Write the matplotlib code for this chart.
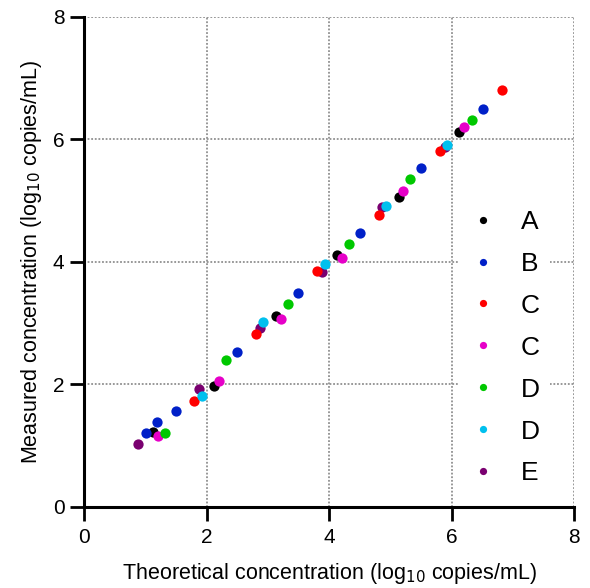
import numpy as np
import matplotlib
matplotlib.use("Agg")
import matplotlib.pyplot as plt

plt.rcParams['font.family'] = ['Liberation Sans', 'DejaVu Sans']

# theoretical vs measured concentration (log10 copies/mL), one list per sample
a_x = [1.13, 2.13, 3.13, 4.13, 5.14, 6.13]
a_y = [1.22, 1.97, 3.12, 4.11, 5.06, 6.13]

b_x = [1.01, 1.19, 1.50, 2.50, 3.50, 4.50, 5.50, 6.51]
b_y = [1.21, 1.38, 1.56, 2.53, 3.50, 4.48, 5.54, 6.50]

c1_x = [1.80, 2.80, 3.80, 4.81, 5.81, 6.82]
c1_y = [1.73, 2.82, 3.85, 4.77, 5.82, 6.81]

c2_x = [1.20, 2.21, 3.21, 4.21, 5.21, 6.21]
c2_y = [1.16, 2.06, 3.07, 4.07, 5.16, 6.21]

d1_x = [1.33, 2.32, 3.33, 4.33, 5.33, 6.33]
d1_y = [1.21, 2.40, 3.31, 4.29, 5.36, 6.32]

d2_x = [1.93, 2.92, 3.93, 4.93, 5.93]
d2_y = [1.82, 3.02, 3.96, 4.91, 5.91]

e_x = [0.88, 1.88, 2.88, 3.89, 4.87, 5.90]
e_y = [1.03, 1.93, 2.92, 3.84, 4.89, 5.88]

labels = ['A', 'B', 'C', 'C', 'D', 'D', 'E']
colors = ['#000000', '#0020c8', '#ff0000', '#e600c8', '#00c800', '#00c0ee', '#7a0070']
series = [(a_x, a_y), (b_x, b_y), (c1_x, c1_y), (c2_x, c2_y),
          (d1_x, d1_y), (d2_x, d2_y), (e_x, e_y)]
zorders = [4, 4, 4, 4, 4, 5, 3]

fig = plt.figure(figsize=(5.9, 5.88), dpi=100)
ax = fig.add_axes([0.1424, 0.1378, 0.8305, 0.8333])

handles = []
for (xs, ys), lab, col, zo in zip(series, labels, colors, zorders):
    ax.plot(xs, ys, 'o', color=col, markersize=7.4, markeredgewidth=0,
            zorder=zo, clip_on=False)
    h, = ax.plot([], [], 'o', color=col, markersize=5.2, markeredgewidth=0, label=lab)
    handles.append(h)

ax.set_xlim(0, 8)
ax.set_ylim(0, 8)
ax.set_xticks([0, 2, 4, 6, 8])
ax.set_yticks([0, 2, 4, 6, 8])

ax.spines['top'].set_visible(False)
ax.spines['right'].set_visible(False)
for s in ['left', 'bottom']:
    ax.spines[s].set_linewidth(2.2)

ax.tick_params(direction='out', length=10, width=2, labelsize=15, colors='black')
ax.tick_params(axis='x', pad=5)
ax.tick_params(axis='y', pad=4)
ax.grid(True, linestyle=(0, (1, 1)), linewidth=1.3, color='#909090')
ax.set_axisbelow(True)

ax.set_xlabel(r'Theoretical concentration (log$_{10}$ copies/mL)', fontsize=15.5, labelpad=10)
ax.set_ylabel(r'Measured concentration (log$_{10}$ copies/mL)', fontsize=15.5, labelpad=6)

leg = ax.legend(handles=handles, loc='upper left', bbox_to_anchor=(0.766, 0.628),
                fontsize=19, frameon=True, facecolor='white', edgecolor='none',
                framealpha=1, fancybox=False, labelspacing=0.68, handletextpad=0.93,
                handlelength=1.0, borderpad=0.4, borderaxespad=0)
leg.set_zorder(6)

fig.savefig('out.png', dpi=100)
